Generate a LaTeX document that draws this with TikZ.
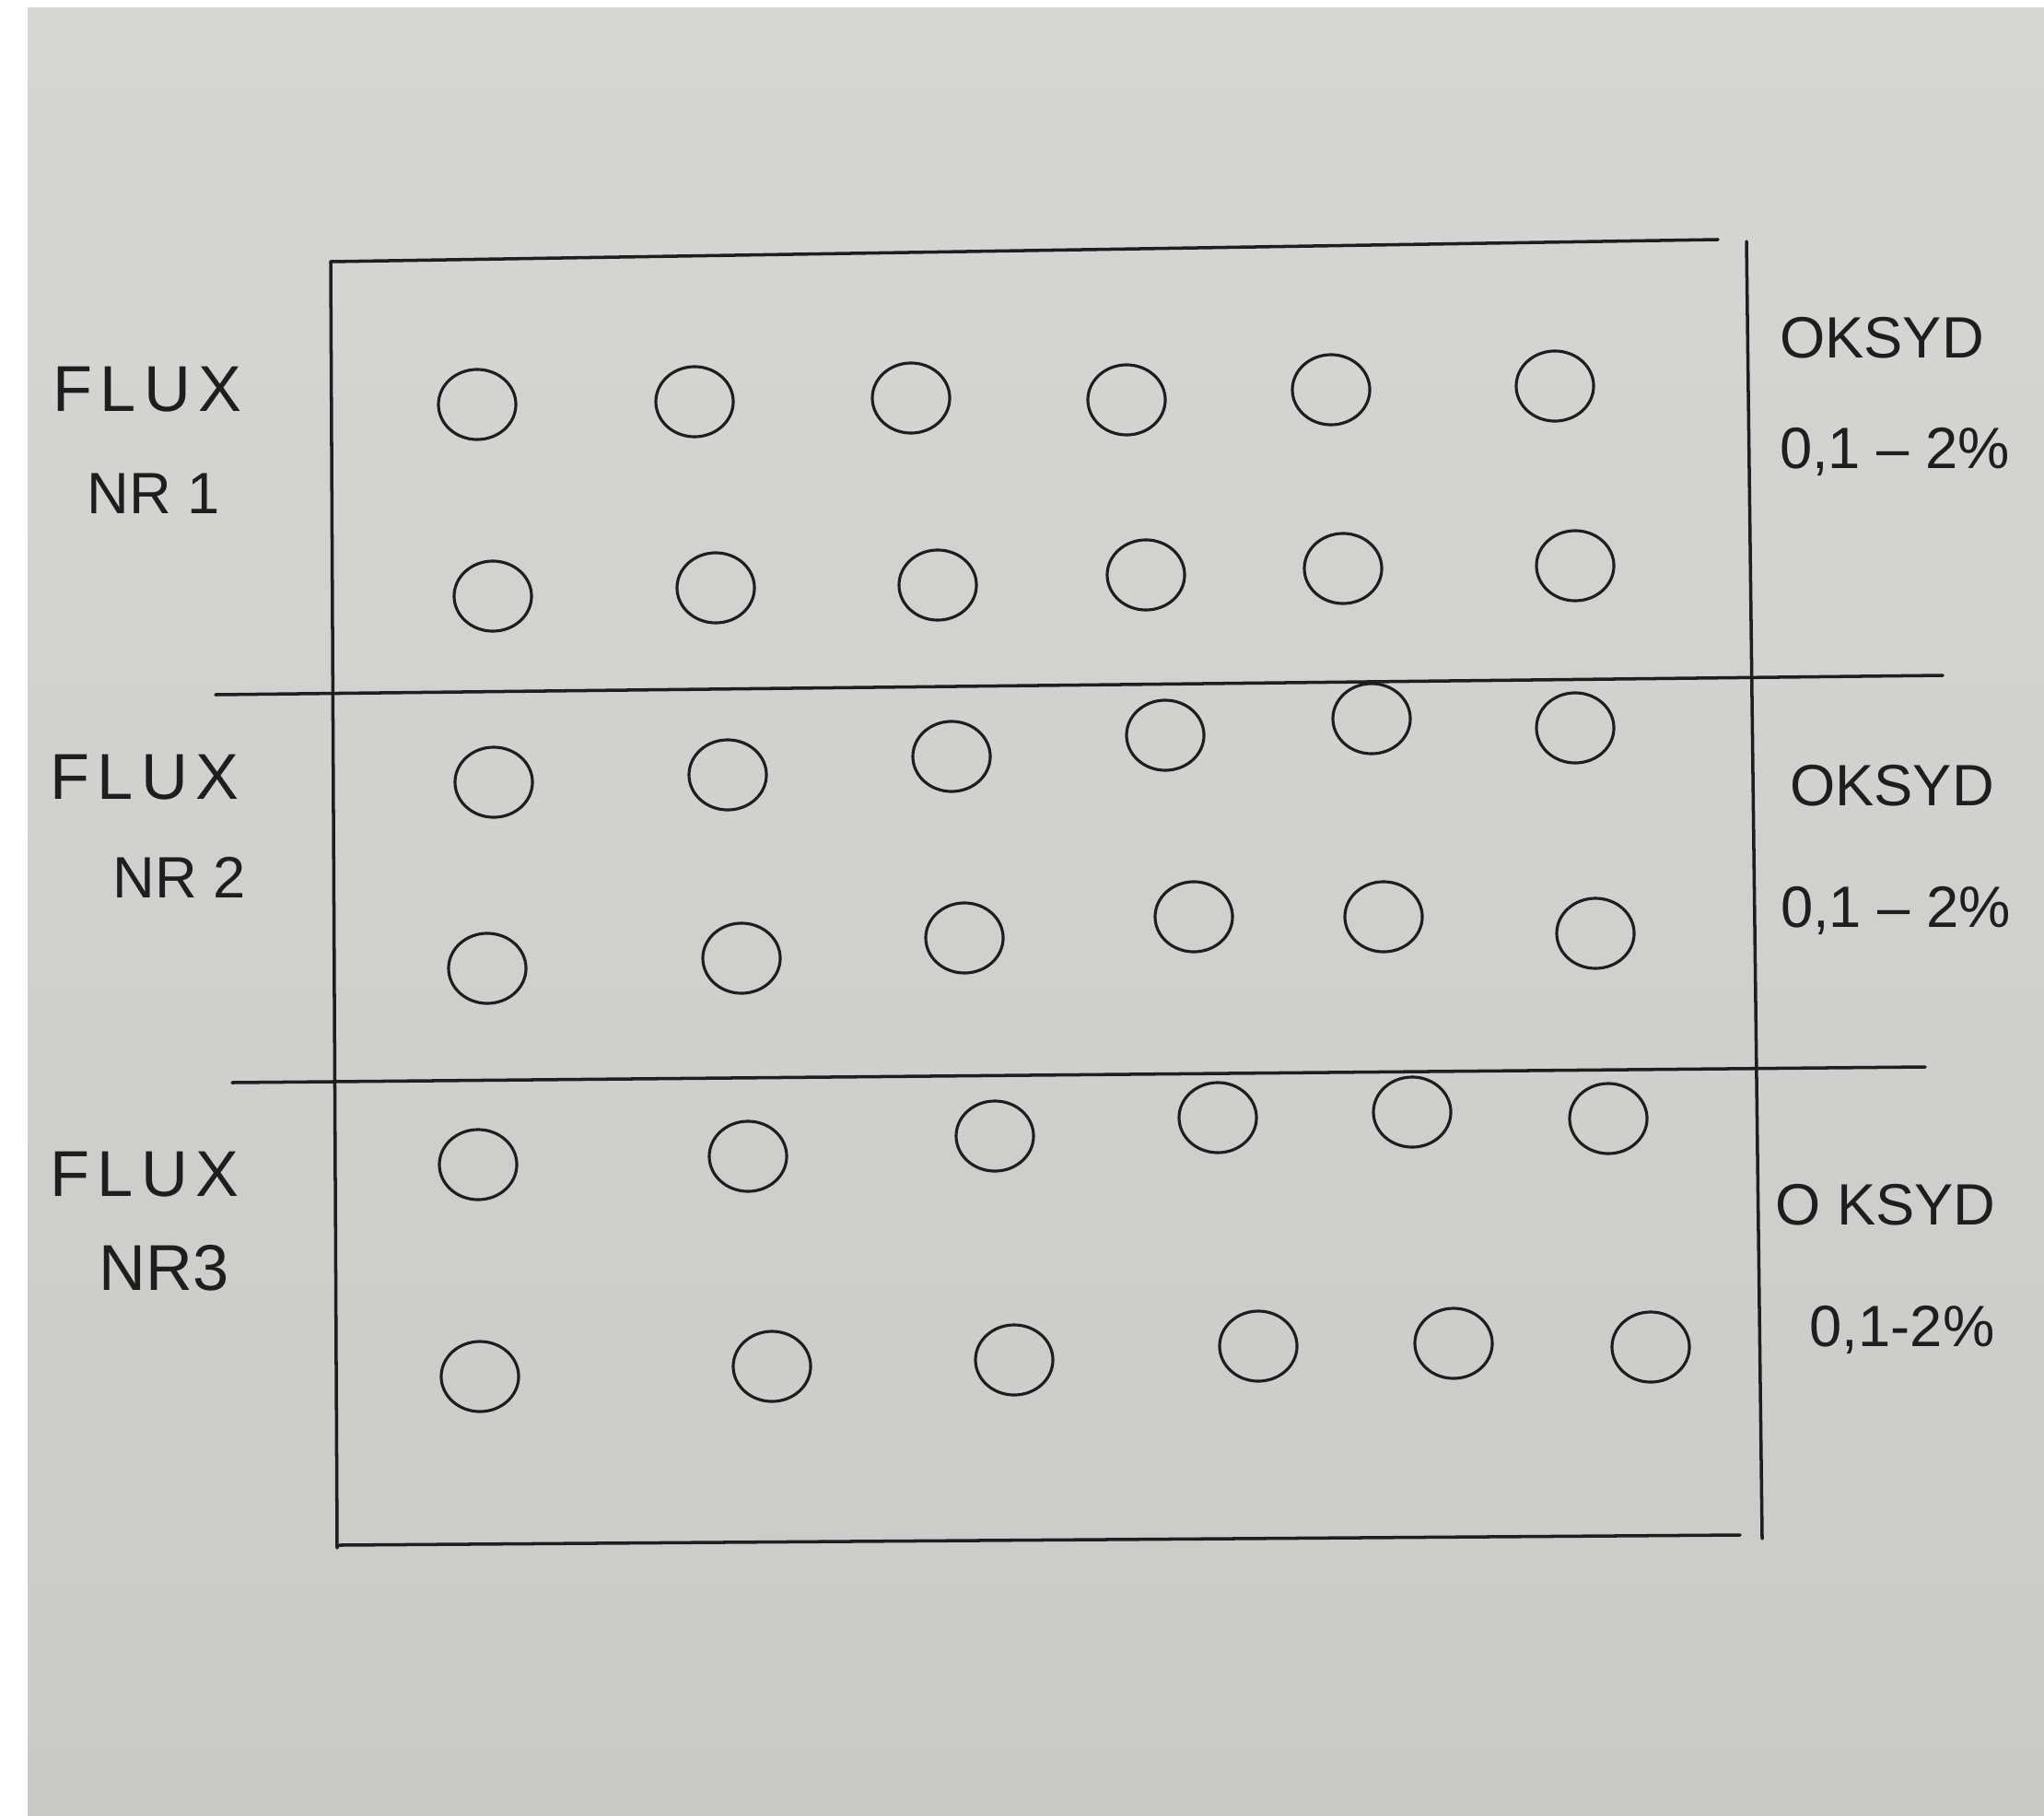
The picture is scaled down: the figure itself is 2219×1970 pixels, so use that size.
\documentclass[tikz,border=0pt]{standalone}
\usepackage{fontspec}
\setmainfont{Liberation Sans}
\usetikzlibrary{shapes.geometric}
\definecolor{paper}{RGB}{214,214,212}
\definecolor{paperlow}{RGB}{202,202,201}
\definecolor{ink}{RGB}{30,30,30}
\tikzset{
  ink/.style={draw=ink, line width=1pt, line cap=round},
  ring/.style={ellipse, draw=ink, line width=0.9pt, minimum width=0.84cm, minimum height=0.76cm, inner sep=0pt},
  lbl/.style={text=ink, inner sep=0pt, font=\fontsize{18}{20}\selectfont},
  flux/.style={lbl, font=\fontsize{20}{22}\selectfont\addfontfeature{LetterSpace=12}}
}
\begin{document}
\begin{tikzpicture}[x=0.01cm, y=-0.01cm]
\useasboundingbox (0,0) rectangle (2219,1970);
\fill[white] (0,0) rectangle (2219,1970);
\shade[top color=paper, bottom color=paperlow] (30,9) rectangle (2219,1970);
% frame corners
\coordinate (tl) at (359,284);
\coordinate (tr) at (1865,260);
\coordinate (rt) at (1896,262);
\coordinate (rb) at (1913,1670);
\coordinate (bl) at (368,1677);
\coordinate (br) at (1889,1666);
\coordinate (lb) at (366,1680);
% dividers
\coordinate (d1a) at (234,754);
\coordinate (d1b) at (2109,733);
\coordinate (d2a) at (252,1175);
\coordinate (d2b) at (2090,1158);
\draw[ink] (tl) -- (tr);
\draw[ink] (tl) -- (lb);
\draw[ink] (bl) -- (br);
\draw[ink] (rt) -- (rb);
\draw[ink] (d1a) -- (d1b);
\draw[ink] (d2a) -- (d2b);
% circles
\foreach \n/\x/\y in {
 a1/518/439, a2/754/436, a3/989/432, a4/1223/434, a5/1445/423, a6/1688/419,
 b1/535/647, b2/777/638, b3/1018/635, b4/1244/624, b5/1458/617, b6/1710/614,
 c1/536/849, c2/790/841, c3/1033/821, c4/1265/798, c5/1489/780, c6/1710/790,
 d1/529/1051, d2/805/1040, d3/1047/1018, d4/1296/995, d5/1502/995, d6/1732/1013,
 e1/519/1264, e2/812/1255, e3/1080/1233, e4/1322/1213, e5/1533/1207, e6/1746/1214,
 f1/521/1494, f2/838/1483, f3/1101/1476, f4/1366/1461, f5/1578/1458, f6/1792/1462}
 \node[ring] (\n) at (\x,\y) {};
% left labels
\node[flux] (flux1) at (160,423) {FLUX};
\node[lbl] (nr1) at (167,536) {NR 1};
\node[flux] (flux2) at (157,844) {FLUX};
\node[lbl] (nr2) at (195,952) {NR 2};
\node[flux] (flux3) at (157,1275) {FLUX};
\node[lbl, font=\fontsize{20}{22}\selectfont] (nr3) at (178,1376) {NR3};
% right labels
\node[lbl] (ok1) at (2043,367) {OKSYD};
\node[lbl] (pc1) at (2057,490) {0,1 – 2\%};
\node[lbl] (ok2) at (2054,853) {OKSYD};
\node[lbl] (pc2) at (2058,988) {0,1 – 2\%};
\node[lbl] (ok3) at (2047,1308) {O KSYD};
\node[lbl] (pc3) at (2065,1443) {0,1-2\%};
\end{tikzpicture}
\end{document}
